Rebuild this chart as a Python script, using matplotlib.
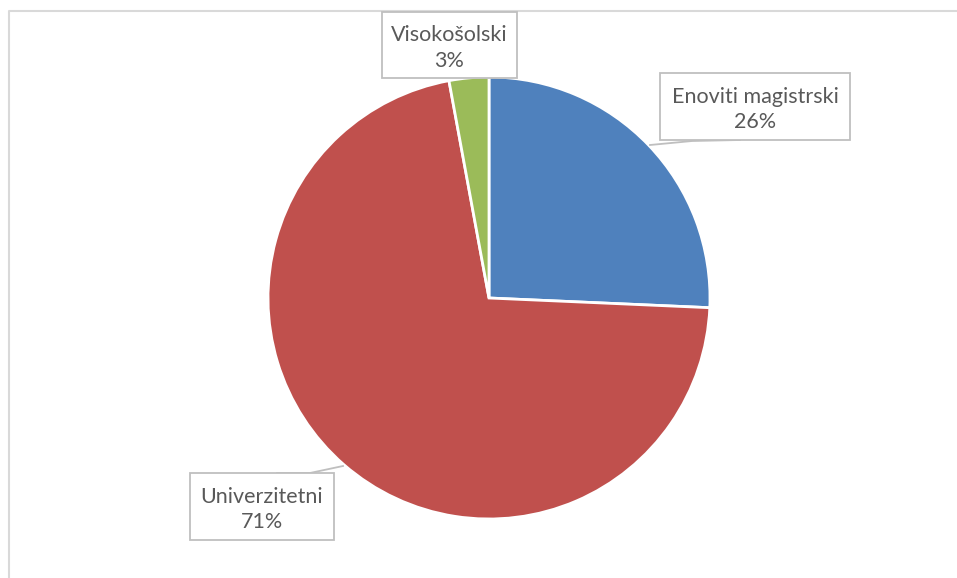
import matplotlib.pyplot as plt
from matplotlib.patches import Rectangle

plt.rcParams['font.family'] = ['Lato', 'DejaVu Sans']

labels = ['Enoviti magistrski', 'Univerzitetni', 'Visokošolski']
values = [25.7, 71.4, 2.9]
pct_text = ['26%', '71%', '3%']
colors = ['#4F81BD', '#C0504D', '#9BBB59']

W, H = 957, 578
fig = plt.figure(figsize=(W / 100, H / 100), dpi=100)
ax = fig.add_axes([0, 0, 1, 1])

# chart area border (only top and left visible in the crop)
ax.plot([8.5, 8.5, W], [0, H - 11, H - 11], color='#D9D9D9', lw=1.5)

cx, cy, r = 489, H - 298, 221
ax.pie(values, colors=colors, startangle=90, counterclock=False,
       center=(cx, cy), radius=r, frame=True,
       wedgeprops=dict(edgecolor='white', linewidth=2))
ax.set_xlim(0, W)
ax.set_ylim(0, H)
ax.set_aspect('equal')
ax.axis('off')

# label boxes (x0, y0 top, x1, y1 bottom) in pixels
boxes = [(660, 73, 850, 140), (190, 473, 334, 540), (382, 12, 517, 78)]
leaders = [[(650, 145), (692, 141), (740, 140)],
           [(343, 466), (310, 473), (277, 473)],
           None]
for lab, pt, (x0, y0, x1, y1), ld in zip(labels, pct_text, boxes, leaders):
    ax.add_patch(Rectangle((x0, H - y1), x1 - x0, y1 - y0, facecolor='white',
                           edgecolor='#BFBFBF', lw=1.3, zorder=5))
    ax.text((x0 + x1) / 2, H - (y0 + y1) / 2 - 3, lab + '\n' + pt,
            ha='center', va='center', fontsize=15.5, color='#595959',
            linespacing=1.35, zorder=6)
    if ld is not None:
        ax.plot([p[0] for p in ld], [H - p[1] for p in ld], color='#BFBFBF',
                lw=1.3, zorder=4)

fig.savefig('out.png', dpi=100)
